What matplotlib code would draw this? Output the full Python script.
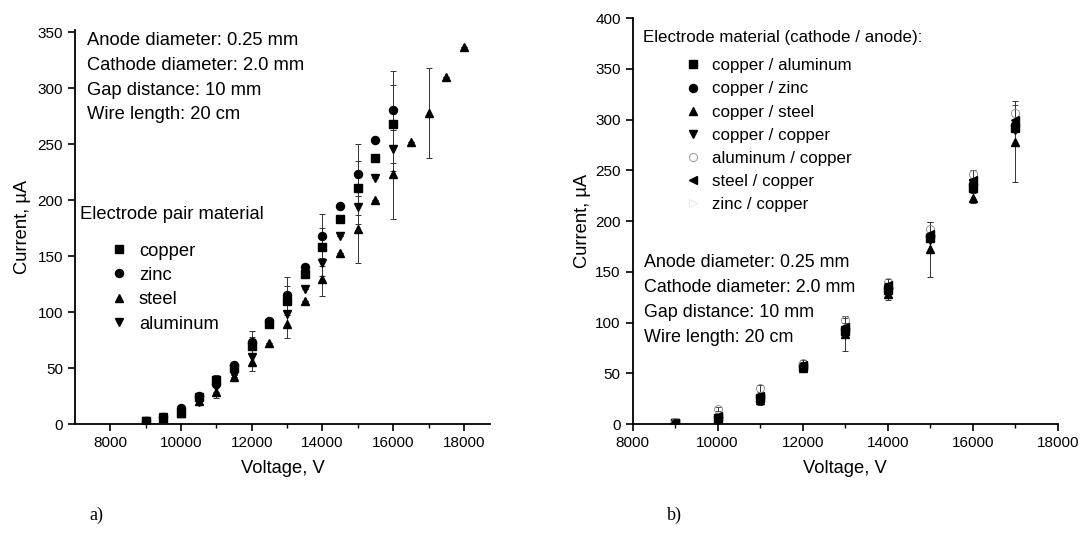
import numpy as np
import matplotlib.pyplot as plt
from matplotlib.lines import Line2D

plt.rcParams['font.family'] = ['Liberation Sans', 'DejaVu Sans']

# ---- panel a): electrode pair material ----
volt_a = [9000, 9500, 10000, 10500, 11000, 11500, 12000, 12500, 13000, 13500,
          14000, 14500, 15000, 15500, 16000]
copper_a = [3, 5, 9.5, 24, 39, 50, 70, 89, 110, 134, 158, 183, 211, 238, 268]
zinc_a = [3, 6, 14, 25, 36, 53, 73, 92, 115, 140, 168, 195, 223, 254, 281]
alum_a = [2.5, 6, 12, 20, 33, 43.5, 60, 90, 98, 121, 144, 168, 194, 220, 246]
volt_steel = [9000, 9500, 10000, 10500, 11000, 11500, 12000, 12500, 13000, 13500,
              14000, 14500, 15000, 15500, 16000, 16500, 17000, 17500, 18000]
steel_a = [2, 5, 10, 21, 29, 42, 55, 72, 89, 110, 130, 153, 174, 200, 223,
           252, 278, 310, 337]

copper_a_err = [0, 0, 0, 0, 5, 0, 8, 0, 13, 0, 17, 0, 24, 0, 35]
zinc_a_err = [0, 0, 0, 0, 7, 0, 10, 0, 16, 0, 20, 0, 27, 0, 34]
alum_a_err = [0, 0, 0, 0, 6, 0, 8, 0, 10, 0, 12, 0, 15, 0, 20]
steel_a_err = [0, 0, 0, 0, 6, 0, 8, 0, 12, 0, 16, 0, 30, 0, 40, 0, 40, 0, 0]

# ---- panel b): cathode / anode combinations ----
volt_b = [9000, 10000, 11000, 12000, 13000, 14000, 15000, 16000, 17000]
cu_al = [1.5, 6, 26, 56, 92, 132, 183, 233, 292]
cu_zn = [1.5, 7, 27, 57, 94, 134, 185, 236, 295]
cu_st = [1, 5, 24, 55, 89, 128, 172, 223, 278]
cu_cu = [1.5, 4, 25, 56, 93, 135, 181, 237, 290]
al_cu = [2, 15, 35, 60, 102, 140, 192, 246, 306]
st_cu = [1.5, 8, 28, 58, 96, 137, 187, 240, 300]
zn_cu = [1.5, 6, 27, 57, 91, 133, 182, 234, 293]
cu_st_err = [0.5, 3, 5, 4, 17, 6, 27, 5, 40]
al_cu_err = [0.5, 2, 3, 3, 2, 3, 7, 4, 8]

params = "Anode diameter: 0.25 mm\nCathode diameter: 2.0 mm\nGap distance: 10 mm\nWire length: 20 cm"

fs = 13.2
tfs = 11
ms = 5.8

fig = plt.figure(figsize=(10.85, 5.46), dpi=100)
ax1 = fig.add_axes([0.069, 0.2234, 0.383, 0.7216])
ax2 = fig.add_axes([0.583, 0.2234, 0.392, 0.7436])

ebkw = dict(linestyle='none', ecolor='#333333', elinewidth=0.7, capsize=2,
            capthick=0.7, ms=ms)


def style(ax):
    for s in ['top', 'right']:
        ax.spines[s].set_visible(False)
    for s in ['left', 'bottom']:
        ax.spines[s].set_linewidth(1.3)
    ax.tick_params(direction='out', length=5, width=1.2, labelsize=tfs)
    ax.tick_params(which='minor', direction='out', length=3, width=1.0)
    ax.set_xlabel('Voltage, V', fontsize=fs, labelpad=7)


def mk(marker, **kw):
    d = dict(marker=marker, linestyle='none', color='black', ms=ms)
    d.update(kw)
    return Line2D([], [], **d)


# panel a
ax1.errorbar(volt_a, copper_a, yerr=copper_a_err, marker='s', color='black', **ebkw)
ax1.errorbar(volt_a, zinc_a, yerr=zinc_a_err, marker='o', color='black', **ebkw)
ax1.errorbar(volt_steel, steel_a, yerr=steel_a_err, marker='^', color='black', **ebkw)
ax1.errorbar(volt_a, alum_a, yerr=alum_a_err, marker='v', color='black', **ebkw)
ax1.set_xlim(7000, 18750)
ax1.set_ylim(0, 352)
ax1.set_xticks(np.arange(8000, 18001, 2000))
ax1.set_xticks(np.arange(9000, 18001, 2000), minor=True)
ax1.set_yticks(np.arange(0, 351, 50))
style(ax1)
ax1.set_ylabel('Current, µA', fontsize=fs, labelpad=5)
ax1.text(0.029, 0.995, params, transform=ax1.transAxes, fontsize=fs,
         va='top', ha='left', linespacing=1.6)
ax1.text(0.012, 0.533, 'Electrode pair material', transform=ax1.transAxes,
         fontsize=fs, va='center', ha='left')
ax1.legend([mk('s'), mk('o'), mk('^'), mk('v')],
           ['copper', 'zinc', 'steel', 'aluminum'],
           loc='upper left', bbox_to_anchor=(0.07, 0.47), frameon=False,
           fontsize=fs, handlelength=1.2, handletextpad=0.5, labelspacing=0.4,
           borderpad=0.2, borderaxespad=0)

# panel b
ax2.errorbar(volt_b, zn_cu, marker='>', mfc='none', mec='#e0e0e0', mew=0.5,
             zorder=1, **ebkw)
ax2.errorbar(volt_b, cu_al, marker='s', color='black', **ebkw)
ax2.errorbar(volt_b, cu_zn, marker='o', color='black', **ebkw)
ax2.errorbar(volt_b, cu_st, yerr=cu_st_err, marker='^', color='black', **ebkw)
ax2.errorbar(volt_b, cu_cu, marker='v', color='black', **ebkw)
ax2.errorbar(volt_b, al_cu, yerr=al_cu_err, marker='o', mfc='none', mec='#888888',
             mew=0.6, **ebkw)
ax2.errorbar(volt_b, st_cu, marker='<', color='black', **ebkw)
ax2.set_xlim(8000, 18000)
ax2.set_ylim(0, 400)
ax2.set_xticks(np.arange(8000, 18001, 2000))
ax2.set_xticks(np.arange(9000, 18001, 2000), minor=True)
ax2.set_yticks(np.arange(0, 401, 50))
style(ax2)
ax2.set_ylabel('Current, µA', fontsize=fs, labelpad=3)
ax2.text(0.024, 0.953, 'Electrode material (cathode / anode):', transform=ax2.transAxes,
         fontsize=12.2, va='center', ha='left')
ax2.legend([mk('s'), mk('o'), mk('^'), mk('v'),
            mk('o', mfc='none', mec='#888888', mew=0.6), mk('<'),
            mk('>', mfc='none', mec='#e0e0e0', mew=0.5)],
           ['copper / aluminum', 'copper / zinc', 'copper / steel', 'copper / copper',
            'aluminum / copper', 'steel / copper', 'zinc / copper'],
           loc='upper left', bbox_to_anchor=(0.11, 0.909), frameon=False,
           fontsize=12.2, handlelength=1.2, handletextpad=0.55, labelspacing=0.48,
           borderpad=0.2, borderaxespad=0)
ax2.text(0.028, 0.42, params, transform=ax2.transAxes, fontsize=12.9,
         va='top', ha='left', linespacing=1.63)

fig.text(0.082, 0.047, 'a)', fontsize=13, family='Liberation Serif')
fig.text(0.615, 0.047, 'b)', fontsize=13, family='Liberation Serif')

fig.savefig('out.png', dpi=100)
